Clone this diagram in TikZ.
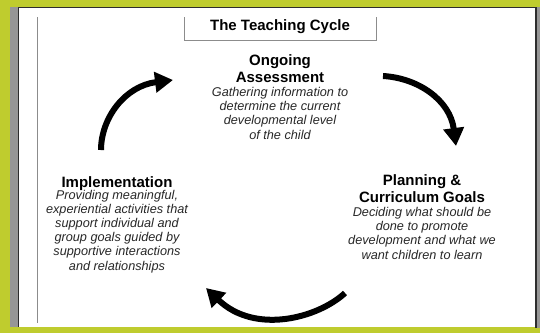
\documentclass[tikz,border=0pt]{standalone}
\usepackage{fontspec}
\setmainfont{Liberation Sans}
\usetikzlibrary{arrows.meta}
\definecolor{bggreen}{RGB}{191,204,46}
\definecolor{stripgray}{RGB}{150,150,150}
\definecolor{darkedge}{RGB}{45,45,45}
\definecolor{rulegray}{RGB}{140,140,140}
\definecolor{desctext}{RGB}{40,40,40}
\begin{document}
\begin{tikzpicture}[x=1pt,y=-1pt,
  titletext/.style={font=\bfseries\fontsize{15}{17}\selectfont, inner sep=0pt, anchor=base, text=black},
  heading/.style={font=\bfseries\fontsize{15}{17}\selectfont, align=center, inner sep=0pt, anchor=base, text=black},
  desc/.style={font=\itshape\fontsize{12.7}{14.2}\selectfont, align=center, inner sep=0pt, anchor=base, text=desctext},
  cyclearrow/.style={line width=6pt, line cap=butt, -{Triangle[length=18pt,width=20pt]}}]
\useasboundingbox (0,0) rectangle (540,333);
\fill[bggreen] (0,0) rectangle (540,333);
\fill[stripgray] (10,7) rectangle (18,327);
\fill[white] (18,7) rectangle (535,327);
\fill[stripgray] (537,7) rectangle (540,328);
\fill[darkedge] (535,7) rectangle (537,328);
\draw[darkedge, line width=1pt] (18.5,327) -- (18.5,7.5) -- (535,7.5);
\draw[rulegray, line width=1pt] (37,17) -- (37,323);
\draw[rulegray, line width=1pt] (184,17) -- (184,40) -- (376,40) -- (376,17);
\node[titletext] (title) at (280,30) {The Teaching Cycle};
\node[heading] (ongoingH) at (280,82) {Ongoing\\Assessment};
\node[desc] (ongoingD) at (280,139) {Gathering information to\\determine the current\\developmental level\\of the child};
\node[heading] (implH) at (117,187) {Implementation};
\node[desc] (implD) at (117,270) {Providing meaningful,\\experiential activities that\\support individual and\\group goals guided by\\supportive interactions\\and relationships};
\node[heading] (planH) at (422,202) {Planning \&\\Curriculum Goals};
\node[desc] (planD) at (422,259) {Deciding what should be\\done to promote\\development and what we\\want children to learn};
\coordinate (a1s) at (101,150);
\coordinate (a1e) at (173,80);
\coordinate (a2s) at (383,76);
\coordinate (a2e) at (456,146);
\coordinate (a3s) at (345,293);
\coordinate (a3e) at (206,288);
\draw[cyclearrow] (a1s) .. controls (101,118) and (125,86) .. (a1e);
\draw[cyclearrow] (a2s) .. controls (418,78) and (450,100) .. (a2e);
\draw[cyclearrow] (a3s) .. controls (318,318) and (255,335) .. (a3e);
\end{tikzpicture}
\end{document}
